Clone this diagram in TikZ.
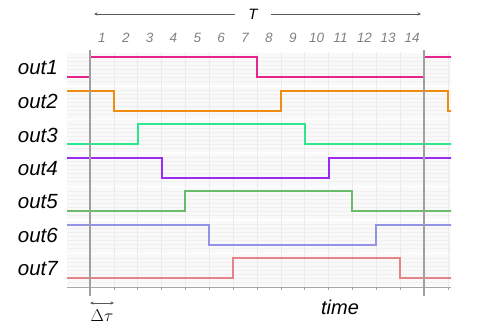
\documentclass[tikz,border=0pt]{standalone}
\usepackage{fontspec}
\setsansfont{Liberation Sans}
\usetikzlibrary{arrows.meta}
\definecolor{sigPink}{HTML}{E8258E}
\definecolor{sigOrange}{HTML}{F08C10}
\definecolor{sigMint}{HTML}{2EE68C}
\definecolor{sigPurple}{HTML}{9A2BF5}
\definecolor{sigGreen}{HTML}{6CBB6C}
\definecolor{sigBlue}{HTML}{9494E6}
\definecolor{sigRed}{HTML}{E48488}
\tikzset{
  every node/.style={font=\sffamily},
  lbl/.style={anchor=east, inner sep=0pt, font=\sffamily\itshape\fontsize{20.5}{21}\selectfont},
  num/.style={text=gray, inner sep=0pt, font=\sffamily\itshape\fontsize{13.5}{14}\selectfont},
  sig/.style={line width=2pt},
  gridln/.style={gray!16, line width=0.5pt},
  cursor/.style={draw=gray!75, line width=1.1pt},
  span/.style={{Stealth[length=3.5pt,width=3pt]}-{Stealth[length=3.5pt,width=3pt]}, gray!70!black, line width=0.6pt},
  tip/.style={-{Stealth[length=3.5pt,width=3pt]}, gray!70!black, line width=0.6pt},
}
\begin{document}
\begin{tikzpicture}[x=1pt, y=-1pt]
  \useasboundingbox (0,0) rectangle (488,332);
  % background bands
  \foreach \k in {0,...,6} {
    \fill[gray!5] (67,53+33.5*\k) rectangle (451,85+33.5*\k);
    \foreach \j in {1,...,7}
      \draw[gray!12, line width=0.4pt] (67,53+33.5*\k+4*\j) -- (451,53+33.5*\k+4*\j);
  }
  \foreach \i in {0,...,15}
    \draw[gridln] ({90+23.857*\i},52) -- ({90+23.857*\i},287);
  \draw[gray!70, line width=0.8pt] (67,287) -- (451,287);
  \foreach \i in {0,...,15}
    \draw[gray!70, line width=0.6pt] ({90+23.857*\i},287) -- ({90+23.857*\i},290);
  % signals
  \begin{scope}
    \clip (67,0) rectangle (451,332);
    \foreach \k/\c/\up in {0/sigPink/0, 1/sigOrange/1, 2/sigMint/0, 3/sigPurple/1,
                           4/sigGreen/0, 5/sigBlue/1, 6/sigRed/0} {
      \pgfmathsetmacro\ya{77+33.5*\k-20*\up}
      \pgfmathsetmacro\yb{57+33.5*\k+20*\up}
      \pgfmathsetmacro\ta{90+23.857*\k}
      \pgfmathsetmacro\tb{\ta+23.857*7}
      \pgfmathsetmacro\tc{\tb+23.857*7}
      \draw[sig, \c] (60,\ya) -| (\ta,\yb) -| (\tb,\ya) -| (\tc,\yb) -- (470,\yb);
    }
  \end{scope}
  % cursors
  \coordinate (c0top) at (90,50);
  \coordinate (c0bot) at (90,296);
  \coordinate (c1top) at (424,50);
  \coordinate (c1bot) at (424,296);
  \draw[cursor] (c0top) -- (c0bot);
  \draw[cursor] (c1top) -- (c1bot);
  % labels
  \foreach \k [evaluate=\k as \n using int(\k+1)] in {0,...,6}
    \node[lbl] (out\n) at (58,68+33.5*\k) {out\n};
  \foreach \i in {1,...,14}
    \node[num] (n\i) at ({90+23.857*(\i-0.5)},38) {\i};
  \node[font=\sffamily\itshape\fontsize{15}{15}\selectfont, inner xsep=13pt, inner ysep=1pt] (period) at (253,14) {T};
  \coordinate (pL) at (94,14);
  \coordinate (pR) at (421,14);
  \draw[tip] (period) -- (pL);
  \draw[tip] (period) -- (pR);
  \coordinate (dL) at (90,303);
  \coordinate (dR) at (114,303);
  \draw[span] (dL) -- (dR);
  \node[font=\fontsize{18}{18}\selectfont, inner sep=0pt] (dtau) at (102,316) {$\Delta\tau$};
  \node[font=\sffamily\itshape\fontsize{20}{20}\selectfont, inner sep=0pt] (time) at (340,307) {time};
\end{tikzpicture}
\end{document}
